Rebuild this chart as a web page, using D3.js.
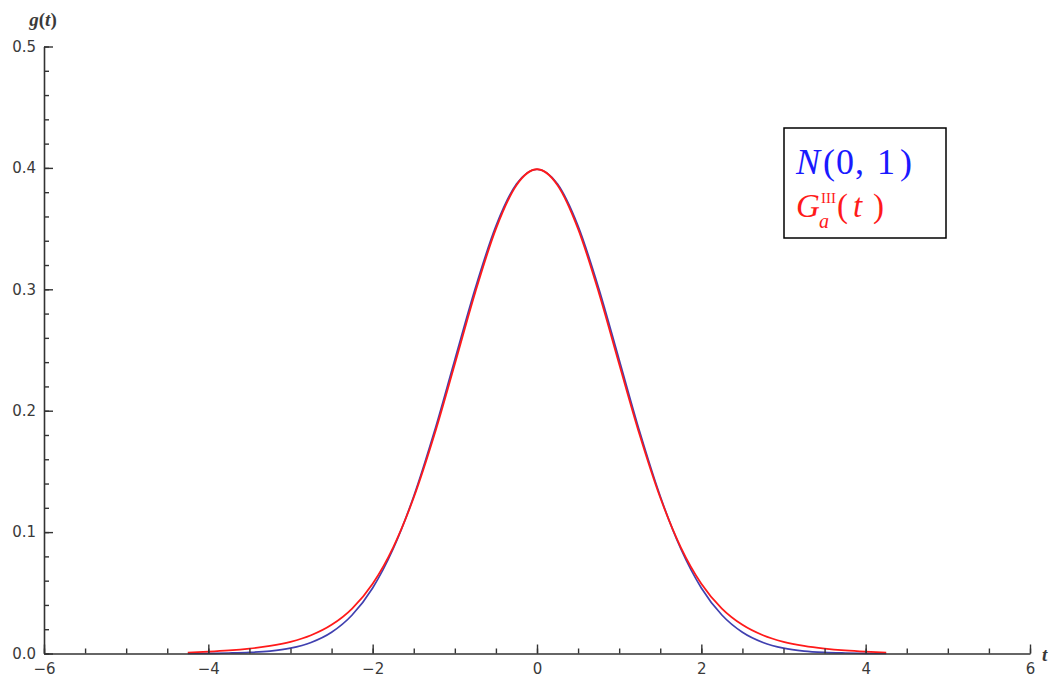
<!DOCTYPE html>
<html>
<head>
<meta charset="utf-8">
<script src="https://cdn.jsdelivr.net/npm/d3@7"></script>
<style>
  html, body { margin: 0; padding: 0; background: #fff; }
  svg { display: block; }
  .tick text { font-family: "DejaVu Sans", sans-serif; font-size: 15px; fill: #3a3a3a; }
</style>
</head>
<body>
<svg id="chart" width="1051" height="679"></svg>
<script>
// Sample points of t
const tValues = [-4.25, -4.0, -3.75, -3.5, -3.25, -3.0, -2.75, -2.5, -2.25, -2.0, -1.75, -1.5, -1.25, -1.0, -0.75, -0.5, -0.25,
  0, 0.25, 0.5, 0.75, 1.0, 1.25, 1.5, 1.75, 2.0, 2.25, 2.5, 2.75, 3.0, 3.25, 3.5, 3.75, 4.0, 4.25];

// Standard normal density N(0, 1)
const normalValues = [0.0000, 0.0001, 0.0004, 0.0009, 0.0020, 0.0044, 0.0091, 0.0175, 0.0317, 0.0540, 0.0863, 0.1295, 0.1826, 0.2420, 0.3011, 0.3521, 0.3867,
  0.3989, 0.3867, 0.3521, 0.3011, 0.2420, 0.1826, 0.1295, 0.0863, 0.0540, 0.0317, 0.0175, 0.0091, 0.0044, 0.0020, 0.0009, 0.0004, 0.0001, 0.0000];

// Density G_a^III(t)
const gValues = [0.0008, 0.0015, 0.0025, 0.0040, 0.0062, 0.0096, 0.0150, 0.0236, 0.0370, 0.0575, 0.0875, 0.1285, 0.1800, 0.2385, 0.2978, 0.3498, 0.3858,
  0.3989, 0.3858, 0.3498, 0.2978, 0.2385, 0.1800, 0.1285, 0.0875, 0.0575, 0.0370, 0.0236, 0.0150, 0.0096, 0.0062, 0.0040, 0.0025, 0.0015, 0.0008];

const xMajorTicks = [-6, -4, -2, 0, 2, 4, 6];
const xMinorTicks = d3.range(-6, 6.001, 0.5);
const yMajorTicks = [0, 0.1, 0.2, 0.3, 0.4, 0.5];
const yMinorTicks = d3.range(0, 0.5001, 0.02);

const svg = d3.select("#chart");

const x = d3.scaleLinear().domain([-6, 6]).range([44, 1030]);
const y = d3.scaleLinear().domain([0, 0.5]).range([653.5, 46.5]);

const minus = s => s.replace("-", "\u2212");

// Curves
const line = (vals) => d3.line()
  .x((d, i) => x(tValues[i]))
  .y(d => y(d))
  .curve(d3.curveMonotoneX)(vals);

svg.append("path")
  .attr("d", line(normalValues))
  .attr("fill", "none")
  .attr("stroke", "#4040b0")
  .attr("stroke-width", 1.7);

svg.append("path")
  .attr("d", line(gValues))
  .attr("fill", "none")
  .attr("stroke", "#ff1a1a")
  .attr("stroke-width", 1.8);

// X axis
const xAxisG = svg.append("g").attr("transform", `translate(0,${y(0)})`);
xAxisG.append("g")
  .call(d3.axisBottom(x).tickValues(xMinorTicks).tickSize(-5).tickFormat(""))
  .call(g => g.select(".domain").remove())
  .call(g => g.selectAll(".tick line").attr("stroke", "#333").attr("stroke-width", 1.4));
xAxisG.append("g")
  .call(d3.axisBottom(x).tickValues(xMajorTicks).tickSize(-9).tickSizeOuter(0).tickPadding(10)
    .tickFormat(d => minus(d3.format("d")(d))))
  .call(g => g.select(".domain").attr("stroke", "#333").attr("stroke-width", 1.6))
  .call(g => g.selectAll(".tick line").attr("stroke", "#333").attr("stroke-width", 1.4))
  .call(g => g.selectAll(".tick text").attr("font-size", null).attr("font-family", null));

// Y axis
const yAxisG = svg.append("g").attr("transform", `translate(${x(-6)},0)`);
yAxisG.append("g")
  .call(d3.axisLeft(y).tickValues(yMinorTicks).tickSize(-5).tickFormat(""))
  .call(g => g.select(".domain").remove())
  .call(g => g.selectAll(".tick line").attr("stroke", "#333").attr("stroke-width", 1.4));
yAxisG.append("g")
  .call(d3.axisLeft(y).tickValues(yMajorTicks).tickSize(-9).tickSizeOuter(0).tickPadding(8)
    .tickFormat(d3.format(".1f")))
  .call(g => g.select(".domain").attr("stroke", "#333").attr("stroke-width", 1.6))
  .call(g => g.selectAll(".tick line").attr("stroke", "#333").attr("stroke-width", 1.4))
  .call(g => g.selectAll(".tick text").attr("font-size", null).attr("font-family", null));

// Axis labels
const axisLabel = svg.append("text")
  .attr("x", 43).attr("y", 26)
  .attr("text-anchor", "middle")
  .attr("font-family", "Liberation Serif, serif")
  .attr("font-size", 19)
  .attr("font-weight", "bold")
  .attr("fill", "#3a3a3a");
axisLabel.append("tspan").attr("font-style", "italic").text("g");
axisLabel.append("tspan").text("(");
axisLabel.append("tspan").attr("font-style", "italic").text("t");
axisLabel.append("tspan").text(")");

svg.append("text")
  .attr("x", 1042).attr("y", 661)
  .attr("font-family", "Liberation Serif, serif")
  .attr("font-style", "italic")
  .attr("font-weight", "bold")
  .attr("font-size", 19)
  .attr("fill", "#3a3a3a")
  .text("t");

// Legend
const legend = svg.append("g");
legend.append("rect")
  .attr("x", 784).attr("y", 128)
  .attr("width", 162).attr("height", 110)
  .attr("fill", "#fff")
  .attr("stroke", "#000")
  .attr("stroke-width", 1.5);

const l1 = legend.append("text")
  .attr("y", 174)
  .attr("font-family", "Liberation Serif, serif")
  .attr("font-size", 36)
  .attr("fill", "#1a1aff");
l1.append("tspan").attr("x", 796).attr("font-style", "italic").text("N");
l1.append("tspan").attr("x", 823).text("(");
l1.append("tspan").attr("x", 836).text("0");
l1.append("tspan").attr("x", 855).text(",");
l1.append("tspan").attr("x", 877).text("1");
l1.append("tspan").attr("x", 900).text(")");

const l2 = legend.append("text")
  .attr("y", 217)
  .attr("font-family", "Liberation Serif, serif")
  .attr("font-size", 33)
  .attr("fill", "#ff1a1a");
l2.append("tspan").attr("x", 796).attr("font-style", "italic").text("G");
l2.append("tspan").attr("x", 837).text("(");
l2.append("tspan").attr("x", 853).attr("font-style", "italic").text("t");
l2.append("tspan").attr("x", 873).text(")");

legend.append("text")
  .attr("x", 821).attr("y", 203)
  .attr("font-family", "Liberation Serif, serif")
  .attr("font-size", 15)
  .attr("fill", "#ff1a1a")
  .text("III");

legend.append("text")
  .attr("x", 819).attr("y", 228)
  .attr("font-family", "Liberation Serif, serif")
  .attr("font-size", 20)
  .attr("font-style", "italic")
  .attr("fill", "#ff1a1a")
  .text("a");
</script>
</body>
</html>
